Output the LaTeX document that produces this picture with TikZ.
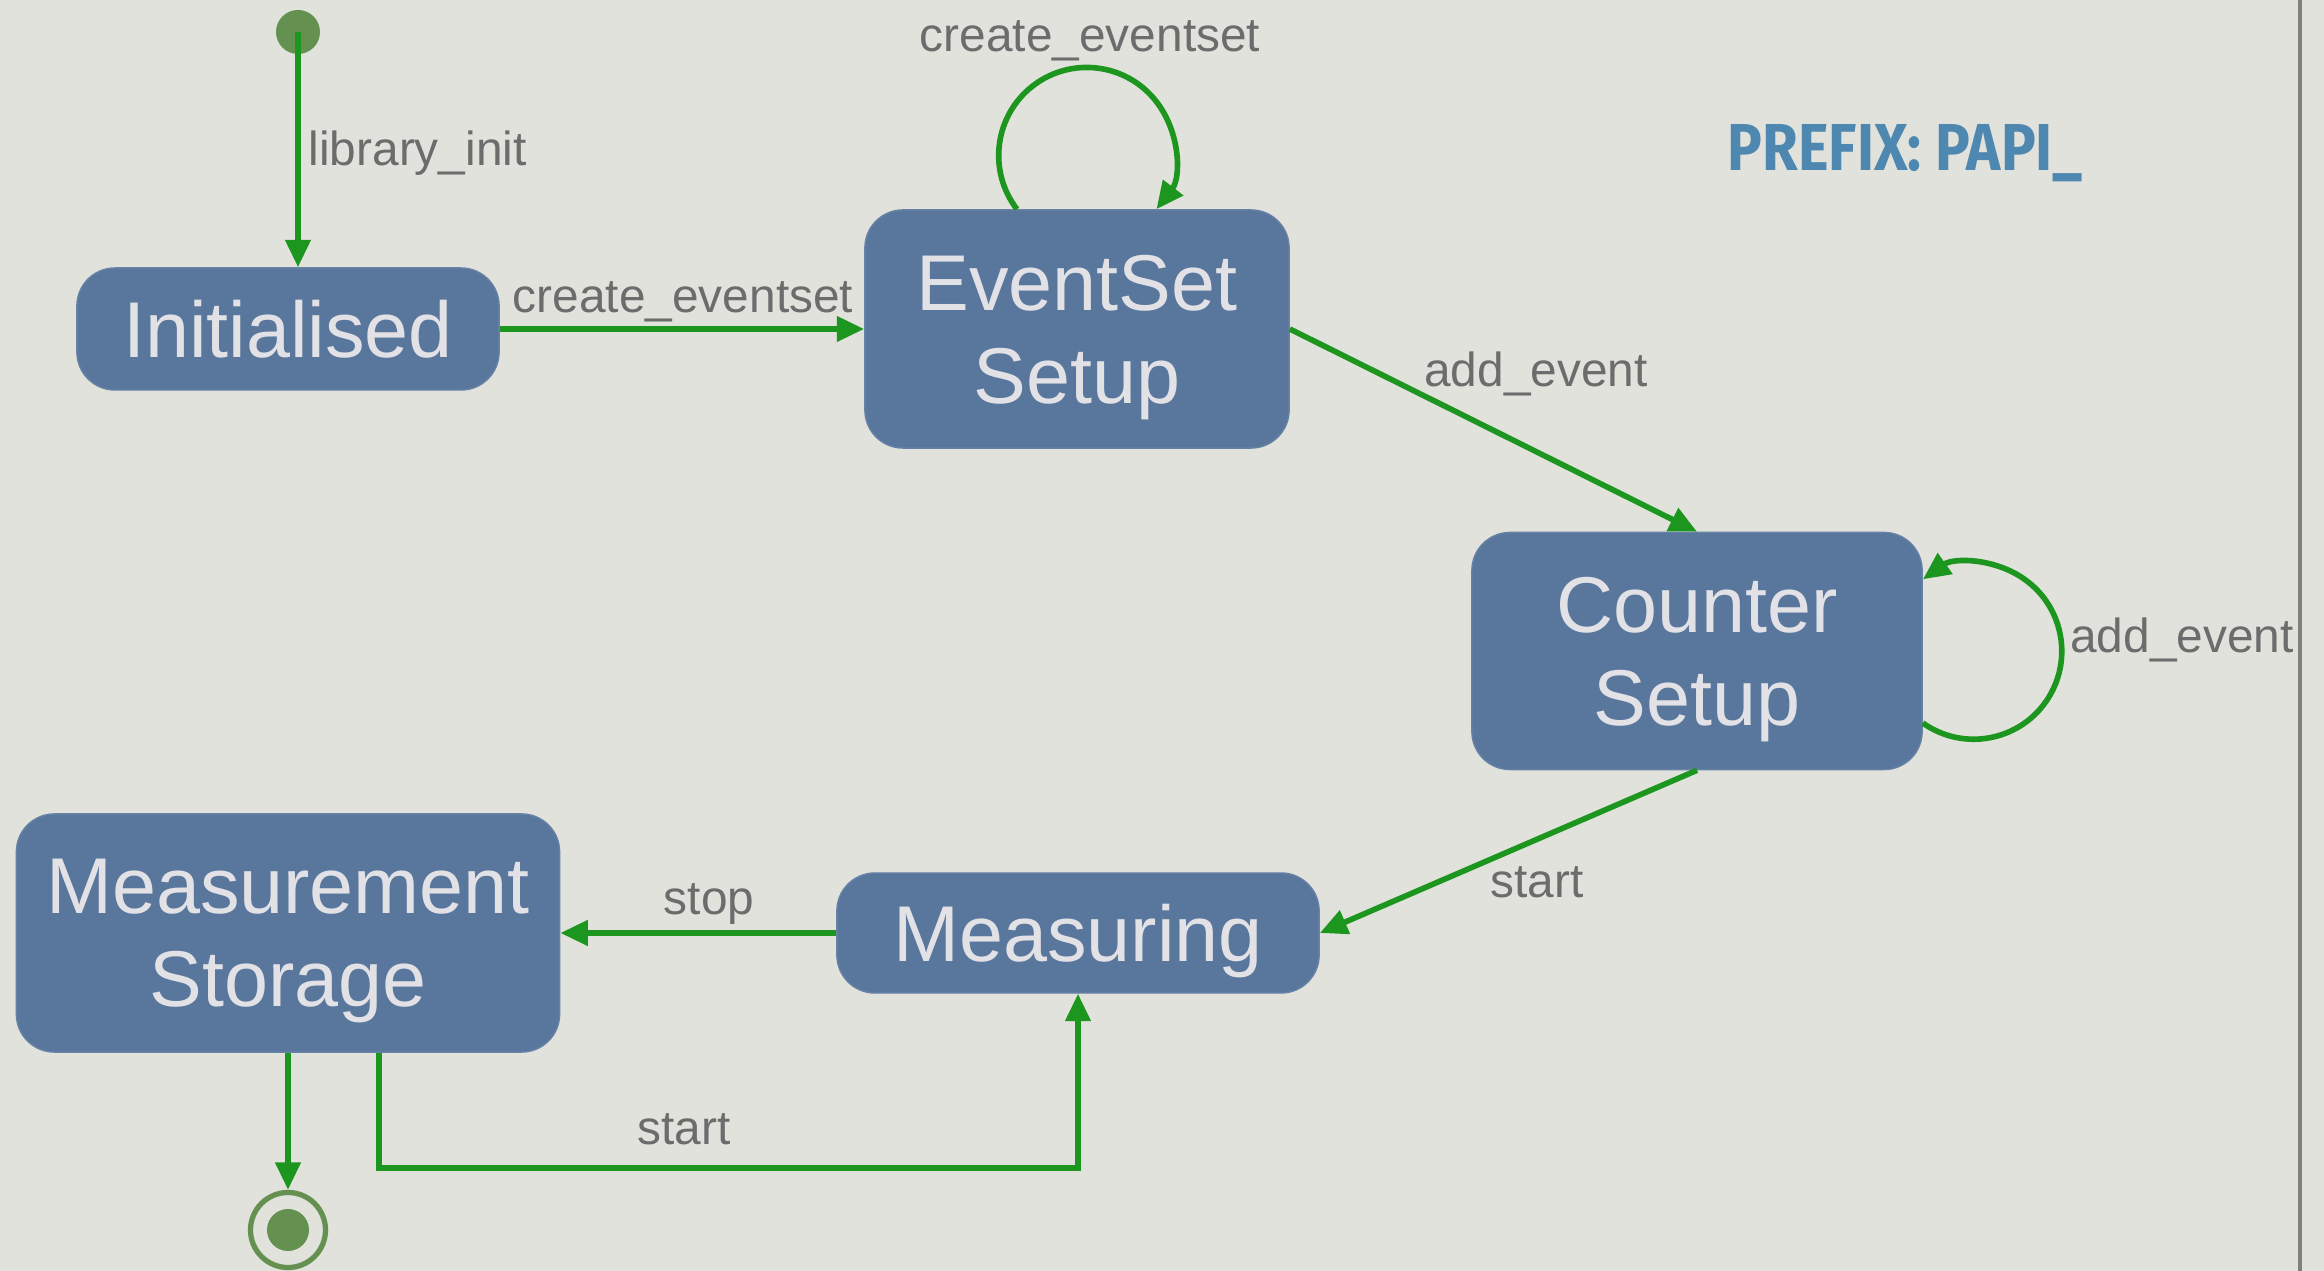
\documentclass[tikz,border=0pt]{standalone}
\usepackage{fontspec}
\setmainfont{Liberation Sans}
\newfontfamily\prefixfont{Fira Sans}
\usetikzlibrary{arrows.meta}
\definecolor{paper}{RGB}{226,226,220}
\definecolor{statefill}{RGB}{89,119,157}
\definecolor{statetext}{RGB}{226,226,230}
\definecolor{flow}{RGB}{28,150,30}
\definecolor{dot}{RGB}{100,145,80}
\definecolor{labelgray}{RGB}{108,108,108}
\definecolor{prefixblue}{RGB}{78,136,176}
\definecolor{rulegray}{RGB}{128,128,125}
\begin{document}
\begin{tikzpicture}[x=0.01cm,y=0.01cm,
  state/.style={rectangle, rounded corners=0.38cm, fill=statefill,
    draw=statefill!92!white, line width=0.4pt, text=statetext,
    font=\fontsize{22.5}{26.5}\selectfont, inner sep=0pt},
  oneline/.style={state, text height=16.4pt, text depth=0pt},
  twoline/.style={state, align=center},
  tr/.style={draw=flow, line width=1.6pt, -{Triangle[length=7.8pt,width=7pt]}},
  lab/.style={text=labelgray, font=\fontsize{13.6}{16}\selectfont, inner sep=0pt, anchor=base},
]
% paper and page frame
\fill[paper] (0,0) rectangle (2324,-1271);
\useasboundingbox (0,0) rectangle (2324,-1271);
\draw[rulegray, line width=1.15pt] (2300,0) -- (2300,-1271);

% pseudo states
\node[circle, fill=dot, minimum size=0.44cm, inner sep=0pt] (start) at (298,-32) {};
\node[circle, draw=dot, line width=1.5pt, minimum size=0.75cm, inner sep=0pt] (final) at (288,-1230) {};
\node[circle, fill=dot, minimum size=0.42cm, inner sep=0pt] (finaldot) at (final.center) {};

% states
\node[oneline, minimum width=4.22cm, minimum height=1.22cm] (init) at (288,-329) {Initialised};
\node[twoline, minimum width=4.24cm, minimum height=2.38cm] (es) at (1077,-329) {EventSet\\\smash{Setup}};
\node[twoline, minimum width=4.50cm, minimum height=2.37cm] (cs) at (1697,-651) {Counter\\\smash{Setup}};
\node[oneline, minimum width=4.82cm, minimum height=1.20cm] (meas) at (1078,-933) {Measuring};
\node[twoline, minimum width=5.43cm, minimum height=2.38cm] (ms) at (288,-933) {Measurement\\\smash{Storage}};

% transitions
\draw[tr] (start.center) -- (start.center |- init.north);
\node[lab, anchor=base west] (lInit) at (308,-166) {library\_init};

\draw[tr] (init.east) -- (es.west);
\node[lab] (lCreate) at (683,-313) {create\_eventset};

\draw[tr] ([xshift=-0.60cm]es.north) arc[start angle=217.6, end angle=-37.6, radius=0.88cm];
\node[lab] (lCreateLoop) at (1090,-52) {create\_eventset};

\draw[tr] (es.east) -- (cs.north);
\node[lab] (lAdd) at (1536,-387) {add\_event};

\draw[tr] ([yshift=-0.72cm]cs.east) arc[start angle=-125.3, end angle=125.3, radius=0.88cm];
\node[lab] (lAddLoop) at (2182,-653) {add\_event};

\draw[tr] (cs.south) -- (meas.east);
\node[lab] (lStart) at (1537,-898) {start};

\draw[tr] (meas.west) -- (ms.east);
\node[lab] (lStop) at (709,-915) {stop};

\draw[tr] (ms.south) -- (final.north);

\draw[tr] ([xshift=0.91cm]ms.south) -- ++(0,-115) -| (meas.south);
\node[lab] (lRestart) at (684,-1145) {start};

% API prefix note
\node[inner sep=0pt, anchor=base west, text=prefixblue] (prefix) at (1727,-171)
  {\resizebox{3.55cm}{0.46cm}{\prefixfont\bfseries PREFIX: PAPI\_}};
\end{tikzpicture}
\end{document}
